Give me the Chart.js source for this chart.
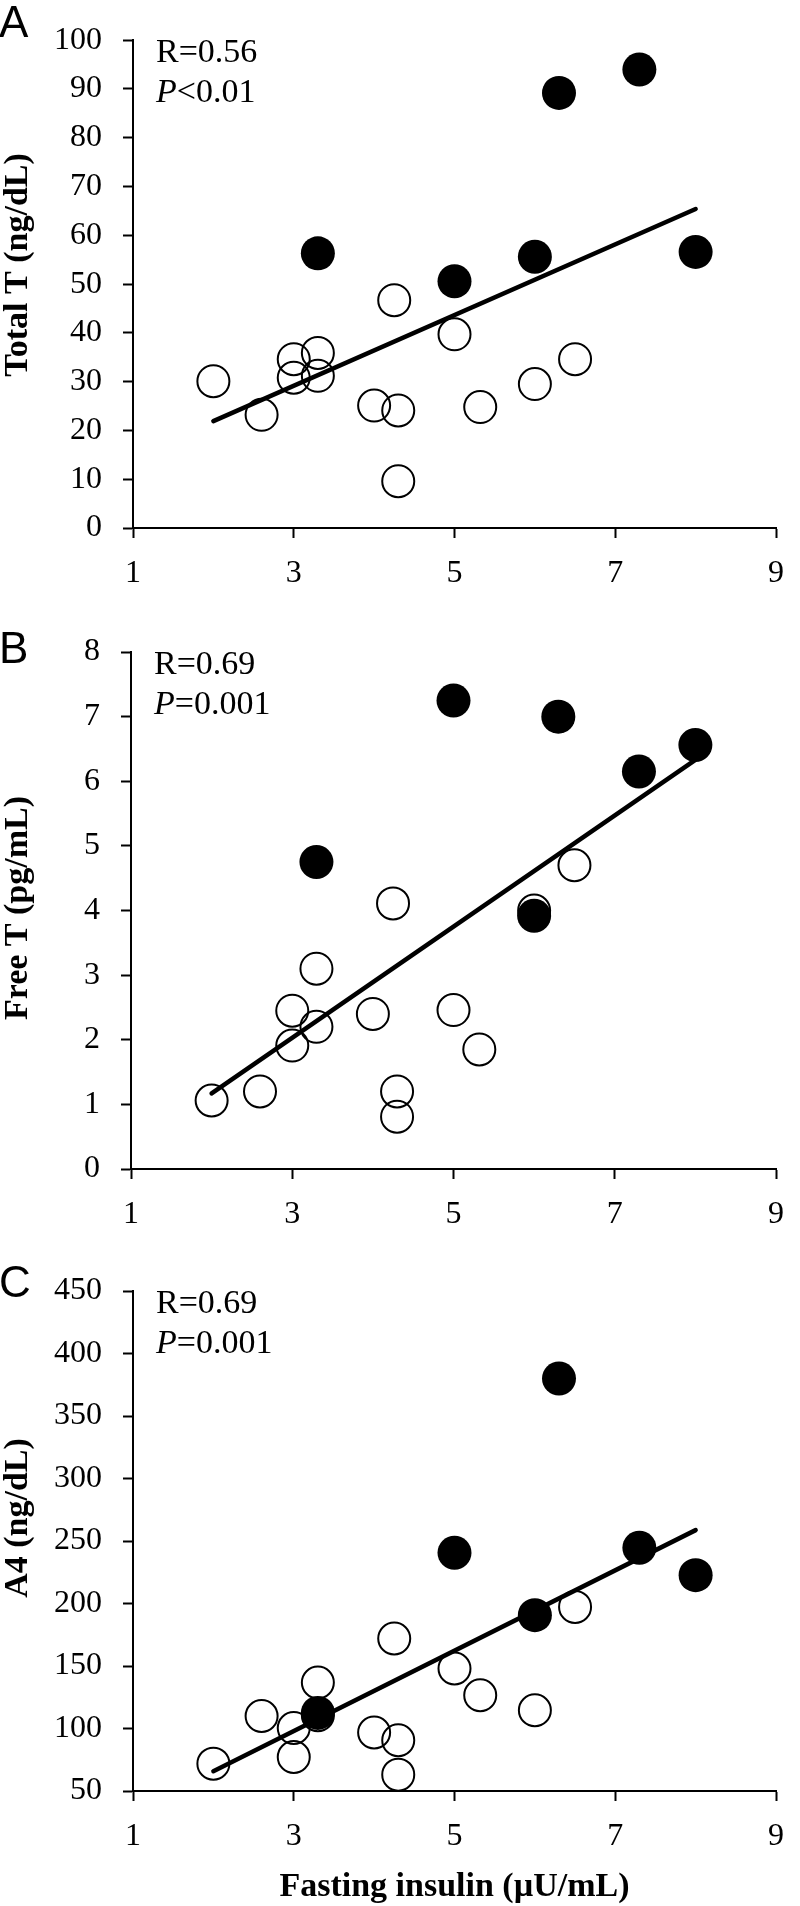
<!DOCTYPE html>
<html>
<head>
<meta charset="utf-8">
<script src="https://cdn.jsdelivr.net/npm/chart.js@4.4.1/dist/chart.umd.min.js"></script>
<style>
  html, body { margin: 0; padding: 0; background: #fff; }
  body { position: relative; width: 800px; height: 1906px; }
  canvas { position: absolute; left: 0; }
</style>
</head>
<body>
<canvas id="chartA" width="800" height="600" style="top:0px"></canvas>
<canvas id="chartB" width="800" height="640" style="top:600px"></canvas>
<canvas id="chartC" width="800" height="666" style="top:1240px"></canvas>
<script>
// fasting insulin (uU/mL), open circles and filled circles
var insulinOpen   = [2.0, 2.6, 3.0, 3.0, 3.3, 3.3, 4.0, 4.25, 4.3, 4.3, 5.0, 5.32, 6.0, 6.5];
var insulinFilled = [3.3, 5.0, 6.0, 6.3, 7.3, 8.0];

// A: total T (ng/dL)
var totalTOpen   = [30.1, 23.2, 34.6, 30.8, 35.9, 31.2, 25.1, 46.7, 24.1, 9.6, 39.7, 24.8, 29.5, 34.6];
var totalTFilled = [56.3, 50.6, 55.6, 89.2, 94.0, 56.6];
// B: free T (pg/mL)
var freeTOpen   = [1.06, 1.20, 2.45, 1.91, 3.10, 2.20, 2.40, 4.11, 1.20, 0.81, 2.46, 1.85, 4.0, 4.70];
var freeTFilled = [4.75, 7.25, 3.92, 7.0, 6.15, 6.56];
// C: A4 (ng/dL)
var a4Open   = [71.9, 110, 100.4, 77.2, 136.8, 110.6, 96.8, 172, 90.6, 63.1, 148, 126.6, 114.6, 197.3];
var a4Filled = [112.5, 240.6, 190.7, 380, 244.6, 222.7];

// regression lines
var fitX      = [2, 8];
var fitTotalT = [21.9, 65.4];
var fitFreeT  = [1.17, 6.33];
var fitA4     = [65.8, 258.7];

var xTicks = [1, 3, 5, 7, 9];

Chart.defaults.font.family = '"Liberation Serif", "Times New Roman", serif';
Chart.defaults.color = '#000';

function pairs(xs, ys) {
    return xs.map(function (x, i) { return { x: x, y: ys[i] }; });
}

function panelText(opts) {
    return {
        id: 'panelText',
        afterDraw: function (chart) {
            var ctx = chart.ctx;
            var area = chart.chartArea;
            ctx.save();
            ctx.fillStyle = '#000';
            ctx.textBaseline = 'alphabetic';
            ctx.textAlign = 'left';

            // panel letter
            ctx.font = '44px "Liberation Sans", Arial, sans-serif';
            ctx.fillText(opts.letter, -1, opts.letterY);

            // R / P annotation
            var x = area.left + 23;
            ctx.font = '34px "Liberation Serif", serif';
            ctx.fillText(opts.r, x, area.top + 22);
            ctx.font = 'italic 34px "Liberation Serif", serif';
            ctx.fillText('P', x, area.top + 62);
            var w = ctx.measureText('P').width;
            ctx.font = '34px "Liberation Serif", serif';
            ctx.fillText(opts.p, x + w, area.top + 62);

            // x title
            if (opts.xTitle) {
                ctx.font = 'bold 34px "Liberation Serif", serif';
                ctx.textAlign = 'center';
                ctx.fillText(opts.xTitle, (area.left + area.right) / 2, opts.xTitleY);
            }

            // y title
            ctx.font = 'bold 34px "Liberation Serif", serif';
            ctx.textAlign = 'center';
            ctx.translate(27, opts.yTitleY);
            ctx.rotate(-Math.PI / 2);
            ctx.fillText(opts.yTitle, 0, 0);
            ctx.restore();
        }
    };
}

var gridOpts = {
    drawOnChartArea: false,
    drawTicks: true,
    tickLength: 10,
    tickWidth: 2,
    tickColor: '#000',
    color: '#000'
};
var borderOpts = { display: true, color: '#000', width: 2 };

function makeChart(id, cfg) {
    return new Chart(document.getElementById(id), {
        type: 'scatter',
        data: {
            datasets: [{
                data: pairs(fitX, cfg.fit),
                showLine: true,
                borderColor: '#000',
                borderWidth: 4.5,
                borderCapStyle: 'round',
                pointRadius: 0,
                clip: false,
                order: 0
            }, {
                data: pairs(insulinFilled, cfg.filled),
                pointRadius: 17,
                pointBackgroundColor: '#000',
                pointBorderWidth: 0,
                clip: false,
                order: 1
            }, {
                data: pairs(insulinOpen, cfg.open),
                pointRadius: 16,
                pointBackgroundColor: 'rgba(0,0,0,0)',
                pointBorderColor: '#000',
                pointBorderWidth: 2,
                clip: false,
                order: 2
            }]
        },
        options: {
            responsive: false,
            animation: false,
            events: [],
            layout: { padding: { top: cfg.top, right: 8, left: 0, bottom: 0 } },
            plugins: {
                legend: { display: false },
                tooltip: { enabled: false }
            },
            scales: {
                x: {
                    type: 'linear',
                    min: xTicks[0],
                    max: xTicks[xTicks.length - 1],
                    afterBuildTicks: function (s) { s.ticks = xTicks.map(function (v) { return { value: v }; }); },
                    ticks: { padding: 16, font: { size: 32 } },
                    grid: gridOpts,
                    border: borderOpts,
                    afterFit: function (s) { s.height = cfg.xHeight; }
                },
                y: {
                    min: cfg.yMin,
                    max: cfg.yMax,
                    ticks: { stepSize: cfg.yStep, padding: 21, font: { size: 32 } },
                    grid: gridOpts,
                    border: borderOpts,
                    afterFit: function (s) { s.width = cfg.yWidth; }
                }
            }
        },
        plugins: [panelText(cfg.text)]
    });
}

makeChart('chartA', {
    fit: fitTotalT, filled: totalTFilled, open: totalTOpen,
    yMin: 0, yMax: 100, yStep: 10,
    top: 38, xHeight: 72, yWidth: 133,
    text: { letter: 'A', letterY: 37, r: 'R=0.56', p: '<0.01', yTitle: 'Total T (ng/dL)', yTitleY: 265 }
});

makeChart('chartB', {
    fit: fitFreeT, filled: freeTFilled, open: freeTOpen,
    yMin: 0, yMax: 8, yStep: 1,
    top: 52, xHeight: 71, yWidth: 131,
    text: { letter: 'B', letterY: 63, r: 'R=0.69', p: '=0.001', yTitle: 'Free T (pg/mL)', yTitleY: 308 }
});

makeChart('chartC', {
    fit: fitA4, filled: a4Filled, open: a4Open,
    yMin: 50, yMax: 450, yStep: 50,
    top: 51, xHeight: 115, yWidth: 133,
    text: { letter: 'C', letterY: 57, r: 'R=0.69', p: '=0.001', yTitle: 'A4 (ng/dL)', yTitleY: 278,
            xTitle: 'Fasting insulin (\u00b5U/mL)', xTitleY: 656 }
});
</script>
</body>
</html>
